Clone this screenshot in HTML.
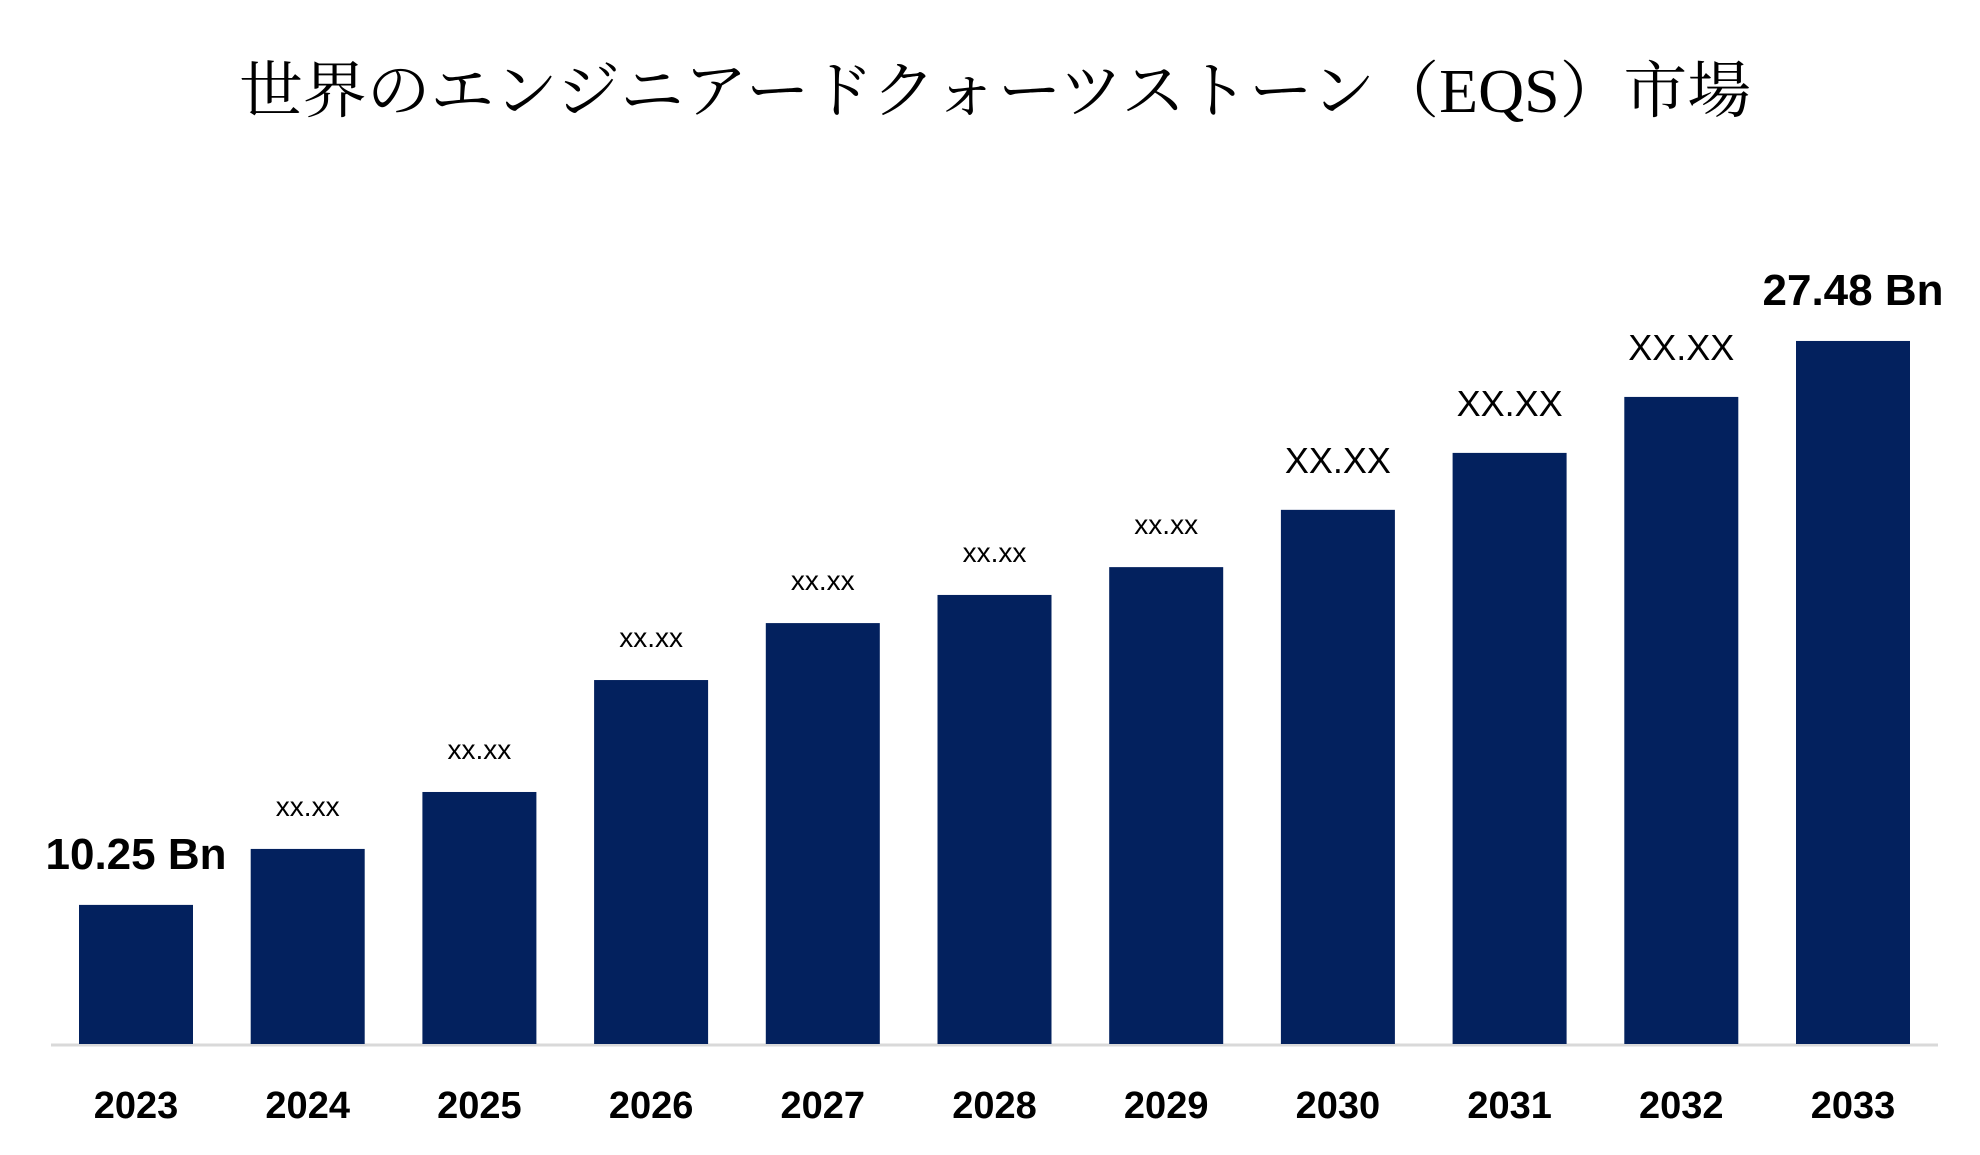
<!DOCTYPE html>
<html><head><meta charset="utf-8"><style>
body{margin:0;background:#fff;}
svg{display:block}
</style></head><body>
<svg id="chart" width="1980" height="1155" viewBox="0 0 1980 1155" xmlns="http://www.w3.org/2000/svg">
<text x="995" y="112" text-anchor="middle" font-family="'Liberation Serif','Noto Serif CJK SC',serif" font-size="62" textLength="1512" lengthAdjust="spacingAndGlyphs" fill="#000">世界のエンジニアードクォーツストーン（EQS）市場</text>
<line x1="51" y1="1045" x2="1938" y2="1045" stroke="#d9d9d9" stroke-width="3"/>
<g id="bars"></g>
</svg>
<script>
const categories=["2023","2024","2025","2026","2027","2028","2029","2030","2031","2032","2033"];
const values=[10.25,11.96,13.70,17.12,18.86,19.72,20.57,22.32,24.06,25.77,27.48];
const valueLabels=["10.25 Bn","xx.xx","xx.xx","xx.xx","xx.xx","xx.xx","xx.xx","XX.XX","XX.XX","XX.XX","27.48 Bn"];
const labelStyles=["big","small","small","small","small","small","small","mid","mid","mid","big"];
const yMin=6.0, pxPerUnit=32.73, baseY=1044;
const x0=79, step=171.7, bw=114;
function xScale(i){return x0+i*step;}
function yScale(v){return baseY-(v-yMin)*pxPerUnit;}
const g=document.getElementById('bars');
const NS="http://www.w3.org/2000/svg";
categories.forEach((c,i)=>{
  const x=xScale(i), y=yScale(values[i]);
  const r=document.createElementNS(NS,'rect');
  
  
  r.setAttribute('x',x);r.setAttribute('y',y);r.setAttribute('width',bw);r.setAttribute('height',baseY-y);
  r.setAttribute('fill','#03215e');
  g.appendChild(r);
  const st=labelStyles[i];
  const t=document.createElementNS(NS,'text');
  
  
  t.setAttribute('x',x+bw/2);
  t.setAttribute('text-anchor','middle');
  t.setAttribute('font-family',"'Liberation Sans','DejaVu Sans',sans-serif");
  if(st==='big'){t.setAttribute('font-size','44');t.setAttribute('font-weight','bold');t.setAttribute('y',y-36);}
  else if(st==='mid'){t.setAttribute('font-size','36');t.setAttribute('y',y-37);}
  else {t.setAttribute('font-size','28');t.setAttribute('y',y-33);}
  t.textContent=valueLabels[i];
  g.appendChild(t);
  const yl=document.createElementNS(NS,'text');
  
  
  yl.setAttribute('x',x+bw/2);yl.setAttribute('y',1118);
  yl.setAttribute('text-anchor','middle');
  yl.setAttribute('font-family',"'Liberation Sans',sans-serif");
  yl.setAttribute('font-size','38');yl.setAttribute('font-weight','bold');
  yl.textContent=c;
  g.appendChild(yl);
});
</script>
</body></html>
